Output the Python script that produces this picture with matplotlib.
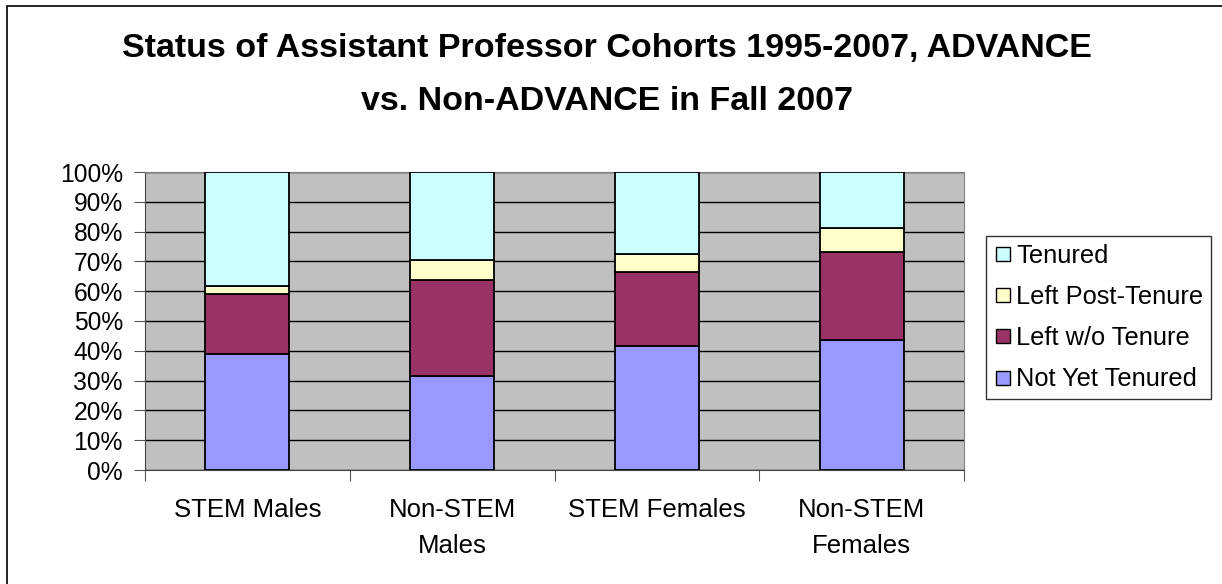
import numpy as np
import matplotlib
matplotlib.use('Agg')
from matplotlib import pyplot as plt
from matplotlib.lines import Line2D
from matplotlib.patches import Rectangle

plt.rcParams['font.family'] = ['Liberation Sans', 'DejaVu Sans']

categories = ['STEM Males', 'Non-STEM\nMales', 'STEM Females', 'Non-STEM\nFemales']
not_yet_tenured = [38.9, 31.4, 41.5, 43.6]
left_wo_tenure = [20.1, 32.2, 24.9, 29.4]
left_post_tenure = [2.7, 6.8, 6.1, 8.2]
tenured = [38.3, 29.6, 27.5, 18.8]

series = [
    ('Not Yet Tenured', not_yet_tenured, '#9999FF'),
    ('Left w/o Tenure', left_wo_tenure, '#993366'),
    ('Left Post-Tenure', left_post_tenure, '#FFFFCC'),
    ('Tenured', tenured, '#CCFFFF'),
]


def main():
    fig = plt.figure(figsize=(12.22, 5.84), dpi=100)
    fig.patches.append(Rectangle((7 / 1222, -0.1), 1.2, 1.1 - 6 / 584,
                                 transform=fig.transFigure, fill=False,
                                 edgecolor='black', linewidth=1.2))
    ax = fig.add_axes([145 / 1222, 114 / 584, 819 / 1222, 298 / 584])
    ax.set_facecolor('#C0C0C0')

    x = np.arange(len(categories))
    bottom = np.zeros(len(categories))
    for name, vals, color in series:
        ax.bar(x, vals, width=0.41, bottom=bottom, color=color,
               edgecolor='black', linewidth=1.3, label=name, zorder=3)
        bottom += np.array(vals)

    ax.set_xlim(-0.5, len(categories) - 0.5)
    ax.set_ylim(0, 100)
    ax.set_yticks(np.arange(0, 101, 10))
    ax.set_yticklabels(['%d%%' % v for v in range(0, 101, 10)], fontsize=17.7)
    ax.yaxis.grid(True, color='black', linewidth=1, zorder=1)
    ax.set_axisbelow(True)

    ax.set_xticks(np.arange(-0.5, len(categories), 1.0))
    ax.set_xticklabels([])
    ax.set_xticks(x, minor=True)
    ax.set_xticklabels(categories, minor=True, fontsize=18.5, linespacing=1.62)
    ax.tick_params(axis='x', which='minor', length=0, pad=20)
    ax.tick_params(axis='x', which='major', length=8, color='#555555')
    ax.tick_params(axis='y', length=8, color='#555555', pad=8)

    for side in ['top', 'right']:
        ax.spines[side].set_color('#808080')
    for side in ['left', 'bottom']:
        ax.spines[side].set_color('#444444')

    fig.text(0.497, 1 - 33 / 584,
             'Status of Assistant Professor Cohorts 1995-2007, ADVANCE\nvs. Non-ADVANCE in Fall 2007',
             ha='center', va='top', fontsize=24.5, fontweight='bold', linespacing=1.92)

    handles = [Line2D([], [], marker='s', linestyle='none', markersize=10,
                      markerfacecolor=c, markeredgecolor='black', markeredgewidth=1)
               for _, _, c in series[::-1]]
    labels = [n for n, _, _ in series[::-1]]
    leg = fig.legend(handles, labels, loc='upper left',
                     bbox_to_anchor=(986 / 1222, 1 - 236 / 584),
                     fontsize=18.3, frameon=True, fancybox=False, handletextpad=0.2,
                     labelspacing=0.68, borderpad=0.3, handlelength=0.7,
                     borderaxespad=0)
    leg.get_frame().set_edgecolor('black')
    leg.get_frame().set_linewidth(1)

    fig.savefig('out.png', dpi=100)


if __name__ == '__main__':
    main()
